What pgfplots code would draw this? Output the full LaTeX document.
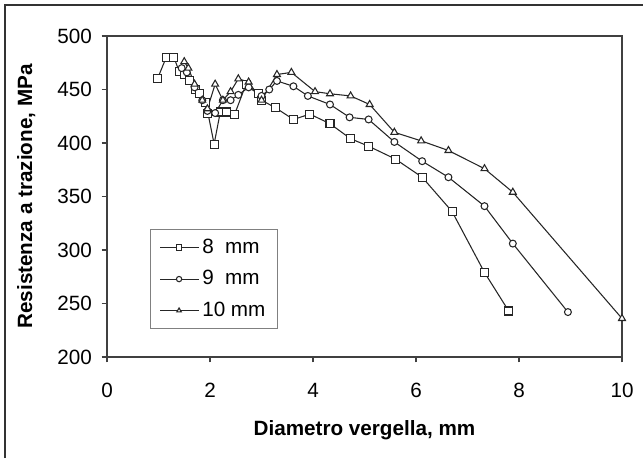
\documentclass[border=0pt]{standalone}
\usepackage{fontspec}
\setmainfont{Liberation Sans}
\usepackage{pgfplots}
\pgfplotsset{compat=1.18}

\begin{document}
\fontsize{15.5}{18}\selectfont
\begin{tikzpicture}
\useasboundingbox (0,0) rectangle (482.25pt,343.5pt);
\draw[line width=1.1pt, black!80] (3.75pt,0) -- (3.75pt,339.75pt) -- (482.25pt,339.75pt);
\begin{axis}[
    at={(80.25pt,75.75pt)}, anchor=south west,
    scale only axis,
    width=386.25pt, height=240.75pt,
    xmin=0, xmax=10,
    ymin=200, ymax=500,
    xtick={0,2,...,10},
    ytick={200,250,...,500},
    xtick pos=bottom, ytick pos=left,
    tick align=outside,
    major tick length=4pt,
    tick style={black!75, line width=0.9pt},
    axis line style={black!75, line width=1.1pt},
    /pgf/number format/assume math mode=true,
    xticklabel style={yshift=-10pt},
    yticklabel style={xshift=-2pt},
    xlabel={\bfseries Diametro vergella, mm},
    ylabel={\bfseries Resistenza a trazione, MPa},
    xlabel style={at={(axis description cs:0.5,-0.243)}, anchor=base},
    ylabel style={at={(axis description cs:-0.1456,0.5)}, anchor=base},
    legend style={at={(axis description cs:0.0835,0.399)}, anchor=north west,
        draw=black!50, line width=0.8pt, row sep=6.5pt,
        inner xsep=7pt, inner ysep=5pt},
    legend cell align=left,
    legend image code/.code={
        \draw[mark repeat=2, mark phase=2, mark size=2pt]
        plot coordinates {(0pt,0pt) (14pt,0pt) (29pt,0pt)};},
    every axis plot/.append style={black!85, line width=0.8pt,
        mark options={fill=white, solid}},
]

% 8 mm
\addplot[mark=square*, mark size=3pt] coordinates {
(0.98,460) (1.15,480) (1.3,480) (1.4,467) (1.5,464) (1.6,458) (1.72,450)
(1.8,446) (1.92,438) (1.96,428) (2.08,399) (2.2,429) (2.32,429) (2.48,427)
(2.7,455) (2.95,446) (3.0,440) (3.27,433) (3.62,422) (3.94,427) (4.33,418)
(4.73,404) (5.08,397) (5.6,385) (6.12,368) (6.7,336) (7.33,279) (7.8,243)
};
% 9 mm
\addplot[mark=*, mark size=2.6pt] coordinates {
(1.45,470) (1.55,466) (1.7,452) (1.85,440) (1.95,430) (2.1,428) (2.25,440)
(2.4,440) (2.55,445) (2.75,452) (3.0,444) (3.15,450) (3.3,458) (3.62,453)
(3.9,444) (4.33,436) (4.71,424) (5.08,422) (5.58,401) (6.12,383) (6.63,368)
(7.33,341) (7.88,306) (8.95,242)
};
% 10 mm
\addplot[mark=triangle*, mark size=3pt] coordinates {
(1.5,476) (1.58,470) (1.7,455) (1.85,440) (1.95,432) (2.1,455) (2.25,440)
(2.4,448) (2.55,460) (2.75,457) (3.0,440) (3.3,464) (3.58,466) (4.04,448)
(4.33,446) (4.73,444) (5.1,436) (5.58,410) (6.1,402) (6.63,393) (7.33,376)
(7.88,354) (10,236)
};
\legend{8~~mm, 9~~mm, 10 mm}
\end{axis}
\end{tikzpicture}
\end{document}
